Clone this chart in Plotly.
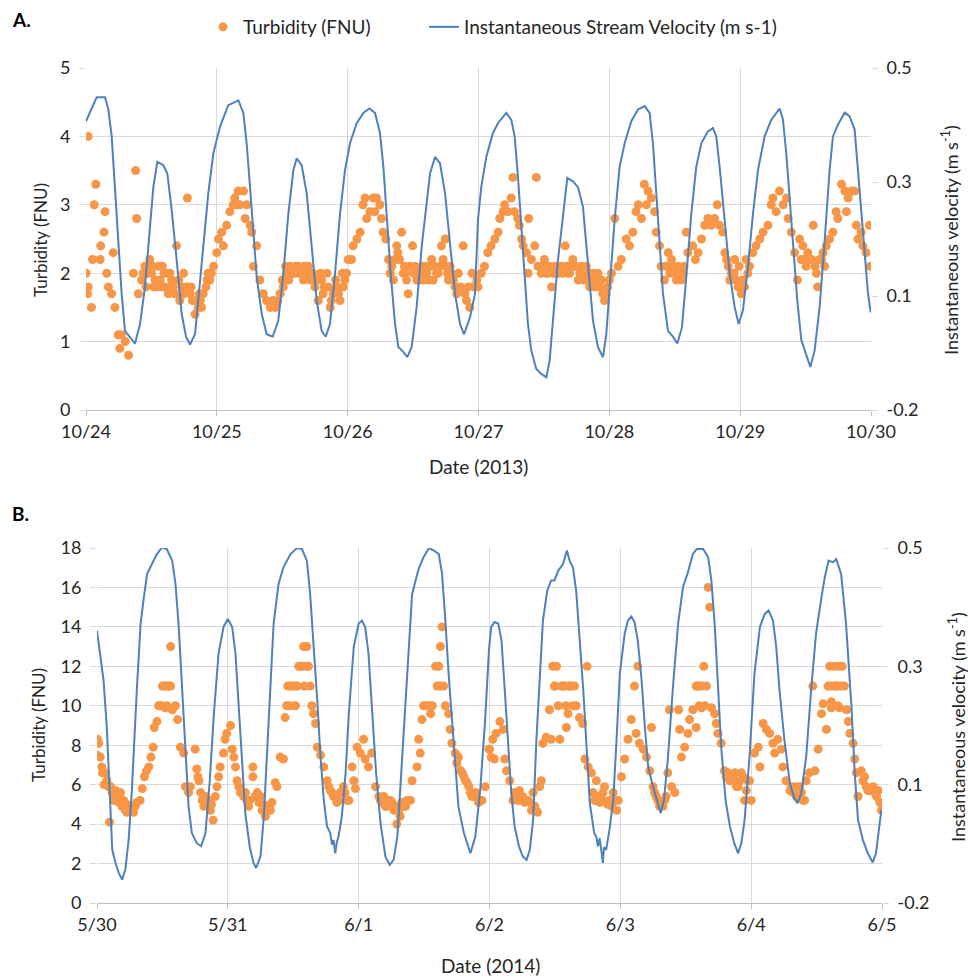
import pandas as pd
import plotly.graph_objects as go

# ---------------- Panel A (2013) ----------------
start_a = "2013-10-24"
vel_a_hours = [0.0, 1.96, 3.49, 4.10, 4.71, 5.32, 5.93, 6.54, 7.15, 8.07, 8.99, 9.91, 10.82, 11.74, 12.35,
               13.09, 14.19, 14.92, 15.72, 16.63, 17.55, 18.35, 19.08, 20.00, 20.61, 21.52, 22.44, 23.36,
               24.58, 26.11, 27.95, 28.86, 29.47, 30.09, 30.70, 31.31, 32.23, 33.14, 34.24, 35.28, 36.20,
               37.12, 38.04, 38.65, 39.56, 40.48, 41.40, 42.32, 43.23, 43.97, 44.76, 45.68, 46.60, 47.51,
               48.43, 49.65, 50.88, 51.98, 53.02, 53.93, 54.55, 55.16, 55.89, 56.69, 57.30, 58.22, 58.95,
               59.74, 60.66, 61.58, 62.50, 63.11, 64.02, 64.94, 65.86, 66.78, 67.69, 68.61, 69.35, 70.45,
               71.36, 71.90, 72.51, 73.43, 74.65, 75.57, 77.10, 78.02, 78.63, 79.24, 79.85, 80.46, 81.07,
               81.68, 82.60, 83.52, 84.44, 85.05, 85.66, 86.58, 87.49, 88.29, 89.33, 90.25, 91.16, 92.08,
               93.00, 93.91, 94.83, 95.44, 96.05, 96.97, 97.89, 98.81, 100.03, 101.25, 102.48, 103.39,
               104.00, 104.62, 105.23, 105.84, 106.76, 107.67, 108.47, 109.32, 110.12, 111.04, 111.95,
               112.87, 114.09, 115.01, 115.62, 116.23, 117.15, 118.07, 118.98, 119.72, 120.51, 121.43,
               122.35, 123.27, 124.49, 125.71, 127.24, 127.85, 128.46, 129.08, 129.69, 130.48, 131.22,
               132.13, 132.87, 133.66, 134.58, 135.50, 136.41, 137.02, 137.94, 139.17, 140.08, 141.00,
               141.61, 142.22, 142.83, 143.45, 143.94]
vel_a = [0.391, 0.440, 0.440, 0.415, 0.360, 0.256, 0.135, 0.038, -0.038, -0.050, -0.064, -0.024, 0.052,
         0.175, 0.256, 0.308, 0.301, 0.284, 0.209, 0.107, -0.003, -0.050, -0.066, -0.045, 0.024, 0.135,
         0.244, 0.325, 0.380, 0.424, 0.434, 0.408, 0.346, 0.256, 0.154, 0.073, -0.003, -0.045, -0.050,
         -0.017, 0.079, 0.202, 0.291, 0.315, 0.301, 0.244, 0.135, 0.024, -0.038, -0.050, -0.024, 0.079,
         0.202, 0.291, 0.346, 0.387, 0.408, 0.417, 0.408, 0.367, 0.298, 0.196, 0.079, -0.024, -0.071,
         -0.081, -0.092, -0.071, 0.011, 0.135, 0.230, 0.284, 0.318, 0.305, 0.244, 0.135, 0.038, -0.024,
         -0.045, -0.010, 0.038, 0.189, 0.256, 0.318, 0.367, 0.387, 0.408, 0.394, 0.360, 0.277, 0.175,
         0.073, -0.024, -0.078, -0.116, -0.126, -0.133, -0.099, -0.017, 0.107, 0.196, 0.275, 0.268,
         0.256, 0.216, 0.093, -0.017, -0.071, -0.092, -0.045, 0.052, 0.189, 0.298, 0.346, 0.391, 0.415,
         0.422, 0.408, 0.346, 0.244, 0.140, 0.038, -0.038, -0.050, -0.064, -0.031, 0.073, 0.202, 0.298,
         0.346, 0.370, 0.377, 0.360, 0.298, 0.189, 0.079, 0.011, -0.024, 0.004, 0.093, 0.202, 0.291,
         0.360, 0.394, 0.417, 0.394, 0.325, 0.230, 0.126, 0.024, -0.057, -0.085, -0.112, -0.078, 0.011,
         0.147, 0.291, 0.360, 0.384, 0.409, 0.401, 0.374, 0.291, 0.196, 0.107, 0.038, 0.000]

turb_a_hours = [0.0, 0.4, 0.4, 0.3, 1.0, 1.2, 1.5, 1.8, 2.6, 2.7, 3.3, 3.5, 3.8, 4.1, 4.7, 5.0, 5.3, 5.9, 6.2,
                6.5, 7.2, 7.8, 8.7, 9.1, 9.3, 9.6, 10.2, 10.8, 11.2, 11.7, 12.0, 12.4, 12.7, 13.3, 13.6, 13.9,
                14.3, 14.8, 15.1, 15.4, 15.7, 16.3, 16.6, 17.2, 17.6, 17.9, 18.5, 18.6, 19.1, 19.5, 20.0,
                20.3, 20.8, 21.2, 21.5, 22.0, 22.4, 22.7, 23.4, 24.0, 24.3, 24.9, 25.2, 25.8, 26.4, 27.0,
                27.3, 27.6, 27.9, 28.2, 28.9, 29.2, 29.5, 30.1, 30.4, 30.7, 31.3, 31.9, 32.5, 33.1, 33.8,
                34.3, 34.7, 35.2, 35.6, 36.2, 36.5, 36.8, 37.2, 37.7, 38.1, 38.6, 39.0, 39.3, 39.9, 40.3,
                40.8, 41.1, 41.4, 42.0, 42.6, 43.2, 43.7, 44.2, 44.8, 45.4, 46.0, 46.6, 47.2, 47.8, 48.1,
                48.7, 49.0, 49.7, 50.3, 50.8, 51.2, 51.5, 52.1, 52.7, 53.0, 53.3, 53.9, 54.2, 54.5, 55.0,
                55.5, 55.8, 56.1, 56.4, 57.0, 57.5, 57.9, 58.2, 58.6, 59.1, 59.4, 59.9, 60.4, 60.7, 61.0,
                61.6, 62.0, 62.5, 63.1, 63.4, 63.7, 64.3, 64.9, 65.2, 65.9, 66.3, 66.8, 67.4, 68.0, 68.3,
                68.7, 69.2, 69.8, 70.4, 71.1, 71.7,
                71.9, 72.5, 73.1, 73.7, 74.3, 75.0, 75.6, 75.9, 76.5, 76.8, 77.4, 78.0, 78.3, 78.6, 79.2,
                79.5, 79.9, 80.2, 80.8, 81.1, 81.2, 81.7, 82.3, 82.6, 82.9, 83.5, 84.1, 84.7, 85.4, 86.0,
                86.6, 87.2, 87.9, 88.4, 88.9, 89.3, 89.9, 90.6, 91.2, 91.8, 92.4, 93.0, 93.6, 94.2, 94.8,
                95.1, 95.7, 96.4, 97.0, 97.6, 98.2, 99.1, 99.7, 100.3, 100.9, 101.3, 101.9, 102.4, 102.8,
                103.1, 103.7, 104.3, 104.6, 105.2, 105.5, 106.1, 106.8, 107.4, 108.0, 108.6, 109.2, 109.7,
                110.1, 110.4, 111.3, 111.8, 112.3, 112.9, 113.5, 114.1, 114.7, 115.3, 115.8, 116.2, 116.8,
                117.2, 117.8, 118.1, 118.6, 119.0, 119.3, 119.8, 120.2, 120.8, 121.1, 121.7, 122.3, 122.9,
                123.6, 124.2, 125.1, 125.7, 126.0, 126.6, 127.2, 127.9, 128.5, 128.8, 129.4, 130.0, 130.5,
                130.9, 131.5, 132.4, 133.1, 133.4, 134.0, 134.2, 134.6, 135.2, 135.8, 136.4, 137.0, 137.6,
                137.9, 138.6, 139.2, 139.5, 139.8, 140.4, 141.0, 141.3, 141.6, 142.2, 142.5, 143.1, 143.7,
                143.9]
turb_a = [2.0, 4.0, 1.8, 1.7, 1.5, 2.2, 3.0, 3.3, 2.2, 2.4, 2.6, 2.9, 2.0, 1.8, 1.7, 2.3, 1.5, 1.1, 0.9,
          1.1, 1.0, 0.8, 2.0, 3.5, 2.8, 1.7, 1.9, 2.1, 2.0, 2.2, 2.0, 1.8, 1.9, 2.1, 1.9, 1.8, 2.0, 2.0,
          1.7, 1.8, 1.9, 1.7, 2.4, 1.6, 1.8, 2.0, 1.8, 3.1, 1.7, 1.6, 1.4, 1.6, 1.7, 1.5, 1.7, 1.8, 2.0,
          1.9, 2.1, 2.3, 2.5, 2.6, 2.4, 2.7, 2.9, 3.0, 3.1, 3.0, 3.2, 3.0, 3.2, 2.8, 3.0, 2.7, 2.6, 2.1,
          2.4, 1.9, 1.7, 1.6, 1.5, 1.6, 1.5, 1.6, 1.7, 1.8, 1.9, 2.0, 1.9, 2.0, 2.0, 2.1, 2.0, 2.0, 1.9,
          2.0, 2.1, 1.9, 2.0, 1.8, 1.6, 1.9, 1.8, 2.0, 1.5, 1.7, 1.8, 1.6, 1.8, 2.0, 2.2, 2.2, 2.4, 2.5,
          2.6, 3.0, 3.1, 2.8, 2.9, 3.1, 2.9, 3.1, 3.0, 2.8, 2.6, 2.5, 2.2, 2.0, 2.1, 1.9, 2.4, 2.2, 2.6,
          2.0, 2.0, 1.7, 2.1, 2.4, 2.1, 1.9, 1.9, 2.1, 2.0, 2.0, 2.1, 2.2, 1.9, 2.0, 2.1, 2.4, 2.5, 2.0,
          2.1, 1.9, 1.7, 2.0, 1.8, 2.4, 1.6, 1.5, 1.8, 1.9,
          1.8, 2.0, 2.1, 2.3, 2.4, 2.5, 2.6, 2.8, 2.9, 3.0, 2.9, 3.1, 3.4, 2.9, 2.8, 2.7, 2.5, 2.4, 2.3,
          2.0, 2.8, 2.2, 2.4, 3.4, 2.1, 2.0, 2.2, 2.0, 1.8, 2.1, 2.0, 2.1, 2.4, 2.0, 2.1, 2.2, 2.1, 2.0,
          1.9, 2.1, 1.8, 2.0, 1.9, 1.8, 1.7, 1.6, 1.8, 2.0, 2.8, 2.1, 2.2, 2.5, 2.4, 2.6, 2.9, 3.0, 2.8,
          3.3, 3.0, 3.2, 3.1, 2.9, 2.6, 2.4, 2.1, 1.9, 2.3, 2.2, 2.0, 2.1, 1.9, 2.1, 2.6, 2.3, 2.4, 2.2,
          2.3, 2.5, 2.7, 2.8, 2.7, 2.8, 3.0, 2.7, 2.6, 2.3, 2.1, 1.9, 2.0, 2.2, 1.9, 2.1, 1.7, 1.8, 2.2,
          2.1, 2.3, 2.4, 2.5, 2.6, 2.7, 3.0, 3.1, 2.9, 3.2, 3.0, 3.1, 2.8, 2.6, 2.3, 1.9, 2.5, 2.4, 2.3,
          2.2, 2.7, 2.0, 1.8, 2.2, 2.3, 2.4, 2.5, 2.6, 2.9, 2.8, 3.3, 3.2, 2.9, 3.1, 3.2, 3.2, 2.7, 2.5,
          2.6, 2.4, 2.3, 2.7, 2.1]
# additional readings in the dense bands of panel A
turb_a_hours_more = [10.5, 11.0, 12.2, 13.0, 14.0, 14.5, 15.4, 16.0, 17.0, 18.0, 19.3, 20.6, 21.0, 22.2,
                     23.0, 36.0, 36.6, 37.0, 37.4, 38.0, 38.4, 39.0, 39.6, 40.0, 40.6, 41.6, 42.3, 43.0,
                     43.5, 44.5, 45.0, 45.8, 46.3, 47.0, 47.5, 56.7, 57.2, 58.4, 58.8, 60.1, 61.3, 61.9,
                     62.2, 62.8, 63.9, 64.6, 65.5, 66.0, 66.5, 67.0, 67.7, 69.5, 70.1, 70.8, 83.2, 83.8,
                     84.4, 85.0, 85.7, 86.3, 87.5, 88.1, 88.7, 89.6, 90.3, 90.9, 91.5, 92.1, 92.7, 93.3,
                     93.9, 94.5, 95.4, 96.0, 106.4, 107.1, 107.7, 108.3, 108.9, 109.5, 117.5, 118.4, 118.9,
                     119.6, 120.5, 121.4, 131.2, 131.8, 132.1, 132.7, 133.7, 134.9, 135.5]
turb_a_more = [2.0, 1.8, 2.1, 1.8, 2.1, 1.8, 2.0, 1.8, 1.9, 1.7, 1.8, 1.5, 1.6, 1.9, 2.0, 1.9, 2.1, 2.0,
               2.1, 2.0, 2.1, 2.1, 2.0, 2.1, 2.0, 2.0, 1.9, 2.0, 1.7, 1.8, 1.6, 1.9, 1.7, 2.0, 1.9, 2.2,
               2.3, 2.1, 1.9, 2.0, 2.0, 1.9, 2.1, 1.9, 2.1, 2.0, 2.2, 2.1, 1.9, 2.0, 1.8, 1.7, 1.8, 2.0,
               2.1, 2.1, 2.0, 2.1, 2.0, 2.0, 2.0, 2.1, 2.0, 2.1, 1.9, 2.1, 1.9, 2.0, 1.9, 1.8, 2.0, 1.9,
               1.7, 1.9, 2.1, 2.0, 2.1, 1.9, 2.0, 2.0, 2.2, 2.0, 2.0, 1.8, 1.9, 2.0, 2.2, 2.2, 2.1, 2.2,
               2.1, 2.2, 2.1]

# ---------------- Panel B (2014) ----------------
start_b = "2014-05-30"
vel_b_hours = [0.0, 0.6, 1.2, 1.8, 2.4, 2.8, 3.4, 4.0, 4.6, 5.2, 5.8, 6.4, 7.3, 8.0, 8.6, 9.2, 10.1, 11.0,
               11.9, 12.8, 13.8, 14.4, 15.0, 15.6, 16.2, 16.8, 17.4, 18.3, 19.1, 19.9, 20.7, 21.4, 22.3,
               23.2, 24.0, 24.8, 25.4, 26.0, 26.6, 27.2, 28.0, 28.7, 29.2, 30.0, 30.6, 31.5, 32.4, 33.3,
               34.2, 35.5, 36.7, 37.6, 38.5, 39.1, 39.7, 40.4, 41.0, 41.6, 42.2, 42.8, 43.1, 43.4, 43.7,
               44.0, 44.3, 44.9, 45.6, 46.2, 47.1, 48.0, 48.6, 49.2, 49.8, 50.4, 51.2, 52.0, 52.9, 53.7,
               54.4, 55.1, 56.0, 56.9, 57.8, 59.0, 59.9, 60.9, 61.8, 62.7, 63.3, 63.9, 64.5, 65.4, 66.3,
               67.3, 67.9, 68.5, 69.4, 70.3, 71.2, 71.9, 72.3, 72.9, 73.6, 74.2, 74.8, 75.4, 76.0, 76.6,
               77.4, 78.1, 78.8, 79.4, 80.0, 80.6, 81.2, 81.8, 82.6, 83.3, 83.9, 84.6, 85.5, 86.2, 86.7,
               87.3, 87.9, 88.5, 89.2, 89.8, 90.4, 91.2, 91.6, 91.9, 92.2, 92.5, 92.8, 93.0, 93.4, 94.0,
               94.7, 95.3, 95.9, 96.8, 97.4, 98.0, 98.6, 99.2, 99.9, 100.5, 101.1, 102.0, 102.8, 103.4,
               104.0, 104.7, 105.7, 106.6, 107.5, 108.4, 109.3, 110.0, 111.2, 112.1, 112.7, 113.3, 113.9,
               114.5, 115.3, 116.1, 116.9, 117.6, 118.2, 118.8, 119.7, 120.6, 121.6, 122.5, 123.2, 124.0,
               124.6, 125.2, 126.1, 127.1, 127.9, 128.5, 129.2, 130.1, 131.0, 131.9, 132.9, 133.5, 134.2,
               135.0, 135.6, 136.5, 137.4, 138.4, 139.0, 139.6, 140.5, 141.4, 142.3, 142.9, 143.5, 143.9]
vel_b = [0.337, 0.292, 0.239, 0.147, 0.016, -0.095, -0.121, -0.141, -0.154, -0.134, -0.076, 0.023, 0.220,
         0.351, 0.403, 0.449, 0.469, 0.488, 0.501, 0.498, 0.475, 0.429, 0.344, 0.220, 0.095, -0.010,
         -0.062, -0.082, -0.088, -0.062, 0.043, 0.167, 0.292, 0.344, 0.360, 0.344, 0.292, 0.187, 0.069,
         -0.023, -0.088, -0.121, -0.131, -0.108, -0.030, 0.147, 0.351, 0.429, 0.462, 0.488, 0.500, 0.498,
         0.475, 0.409, 0.318, 0.200, 0.089, 0.003, -0.049, -0.062, -0.085, -0.076, -0.102, -0.080, -0.069,
         -0.030, 0.056, 0.174, 0.305, 0.351, 0.357, 0.344, 0.292, 0.187, 0.056, -0.042, -0.108, -0.125,
         -0.115, -0.069, 0.095, 0.252, 0.409, 0.459, 0.482, 0.500, 0.495, 0.488, 0.449, 0.357, 0.252,
         0.121, -0.010, -0.062, -0.082, -0.102, -0.069, 0.023, 0.161, 0.298, 0.344, 0.354, 0.351, 0.318,
         0.220, 0.121, 0.016, -0.049, -0.088, -0.108, -0.115, -0.095, -0.036, 0.121, 0.252, 0.357, 0.416,
         0.436, 0.436, 0.455, 0.469, 0.495, 0.475, 0.462, 0.416, 0.331, 0.220, 0.108, -0.003, -0.062,
         -0.070, -0.088, -0.072, -0.095, -0.121, -0.090, -0.095, -0.056, 0.003, 0.121, 0.252, 0.331,
         0.357, 0.365, 0.354, 0.318, 0.239, 0.147, 0.069, 0.029, -0.003, -0.023, 0.003, 0.082, 0.232,
         0.351, 0.423, 0.452, 0.488, 0.498, 0.498, 0.482, 0.436, 0.351, 0.232, 0.108, 0.003, -0.049,
         -0.082, -0.102, -0.082, -0.036, 0.089, 0.252, 0.344, 0.370, 0.377, 0.357, 0.305, 0.220, 0.121,
         0.036, 0.007, -0.003, 0.016, 0.089, 0.220, 0.331, 0.403, 0.442, 0.475, 0.472, 0.478, 0.449,
         0.351, 0.187, 0.056, -0.036, -0.076, -0.102, -0.120, -0.102, -0.049, -0.016]

turb_b_hours = [0.0, 0.1, 0.3, 0.6, 0.9, 1.3, 1.5, 2.1, 2.3, 2.8, 3.1, 3.4, 3.7, 4.0, 4.3, 4.6, 4.9, 5.2,
                5.5, 6.1, 6.7, 7.3, 7.9, 8.3, 8.7, 9.1, 9.5, 9.9, 10.3, 10.5, 11.0, 11.3, 11.9, 12.2, 12.5,
                12.8, 13.1, 13.5, 13.5, 13.8, 14.4, 14.8, 15.3, 15.9, 16.2, 16.8, 17.1, 18.0, 18.3, 18.7,
                19.3, 19.6, 20.2, 20.8, 21.3, 21.7, 22.0, 22.3, 22.6, 23.2, 23.5, 23.8, 24.5, 24.8, 25.1,
                25.4, 25.7, 26.3, 26.9, 27.5, 27.8, 28.6, 28.6, 29.0, 29.7, 30.3, 30.9, 31.5, 32.1, 32.7,
                33.0, 33.6, 34.2, 34.5, 34.8, 35.2, 35.5, 35.8, 36.1, 36.4, 36.7, 37.3, 37.6, 38.2, 38.5,
                38.8, 39.1, 39.4, 39.7, 40.1, 40.4, 41.0, 41.6, 42.2, 42.8, 43.4, 44.0, 44.6, 45.2, 45.9,
                46.8, 47.1, 47.4, 47.7, 48.3, 48.9, 49.2, 49.8, 50.4, 51.1, 51.7, 52.3, 52.9, 53.5, 54.1,
                54.5, 55.0, 55.6, 56.3, 56.9, 57.5, 57.8, 58.7, 59.0, 59.3, 59.6, 59.9, 60.5, 61.2, 61.5,
                62.1, 62.4, 63.0, 63.3, 63.6, 63.9, 64.5, 64.8, 65.1, 65.7, 66.3, 66.7, 67.3, 67.9, 68.5,
                69.1, 70.0, 70.6, 71.2, 71.9,
                72.0, 72.3, 72.6, 72.9, 73.2, 73.9, 74.5, 74.8, 75.1, 75.7, 76.3, 76.9, 77.5, 78.1, 78.4,
                79.1, 79.7, 80.3, 80.8, 81.2, 81.5, 81.8, 82.4, 83.0, 83.3, 83.6, 83.9, 84.3, 84.6, 84.9,
                85.2, 85.5, 86.1, 86.4, 86.7, 87.0, 87.6, 87.9, 88.5, 89.1, 89.5, 89.9, 90.1, 90.7, 91.0,
                91.6, 91.9, 92.5, 93.1, 93.4, 94.0, 94.7, 95.3, 95.6, 96.2, 96.8, 97.4, 98.0, 98.6, 98.9,
                99.2, 99.5, 100.2, 100.8, 101.4, 101.7, 102.0, 102.6, 103.2, 104.1, 104.7, 105.0, 105.4,
                106.0, 106.7, 106.9, 107.2, 107.8, 108.4, 108.7, 109.3, 109.9, 110.2, 110.5, 110.9, 111.3,
                111.8, 112.1, 112.4, 112.7, 113.3, 113.6, 113.9, 114.5, 115.1, 115.7, 116.4, 117.0, 117.6,
                118.2, 118.8, 119.4, 120.0, 120.6, 121.3, 121.6, 122.2, 122.8, 123.4, 124.0, 124.3, 124.9,
                125.5, 125.8, 126.4, 127.1, 127.7, 128.3, 128.9, 129.5, 130.1, 130.7, 131.3, 131.7, 132.3,
                132.9, 133.2, 133.8, 134.1, 134.4, 134.7, 135.3, 135.6, 135.9, 136.2, 136.7, 137.1, 137.5,
                137.8, 138.1, 138.7, 139.0, 139.3, 139.6, 140.2, 140.8, 141.1, 141.7, 142.4, 143.0, 143.6,
                143.9]
turb_b = [7.5, 8.3, 8.1, 7.4, 6.9, 6.0, 6.6, 5.9, 4.1, 5.6, 5.2, 5.7, 5.4, 5.1, 5.6, 4.9, 5.2, 4.7, 4.6,
          4.9, 4.6, 5.1, 5.2, 5.8, 6.4, 6.7, 6.9, 7.4, 7.9, 8.9, 9.2, 10.0, 10.0, 11.0, 11.0, 10.0, 11.0,
          11.0, 13.0, 9.8, 10.0, 9.3, 7.9, 7.6, 5.9, 5.6, 5.9, 7.8, 6.8, 6.2, 5.2, 4.9, 5.1, 4.7, 4.2,
          5.4, 5.9, 6.4, 6.9, 7.6, 8.3, 8.6, 9.0, 7.8, 7.4, 6.9, 6.2, 5.6, 5.4, 5.2, 4.9, 6.9, 6.4, 5.4,
          5.1, 4.7, 4.4, 4.9, 5.1, 6.1, 5.9, 7.4, 7.3, 9.4, 10.0, 10.0, 11.0, 11.0, 10.0, 11.0, 11.0,
          12.0, 12.0, 13.0, 13.0, 12.0, 11.0, 10.0, 9.6, 9.1, 7.9, 7.5, 6.9, 6.2, 5.7, 5.4, 5.1, 5.6, 5.9,
          5.2, 6.9, 6.2, 5.8, 7.9, 7.6, 8.3, 7.3, 6.9, 7.6, 5.9, 5.4, 5.1, 4.9, 5.2, 5.1, 4.7, 4.0, 4.4,
          4.9, 5.2, 5.2, 6.2, 6.9, 8.3, 7.6, 9.3, 10.0, 10.0, 9.6, 10.0, 12.0, 11.0, 13.0, 14.0, 11.0,
          10.0, 9.6, 8.8, 8.1, 7.6, 7.4, 6.7, 6.4, 6.1, 5.6, 5.4, 5.1, 5.2, 5.9, 7.8,
          7.8, 7.4, 8.3, 7.3, 8.6, 9.2, 8.8, 7.3, 6.7, 6.2, 5.2, 5.6, 5.7, 5.4, 5.1, 5.2, 4.7, 4.9, 4.6,
          5.9, 6.2, 8.1, 8.4, 9.8, 8.3, 12.0, 11.0, 12.0, 10.0, 8.3, 11.0, 11.0, 8.9, 9.6, 11.0, 11.0,
          11.0, 10.0, 9.4, 9.1, 7.3, 12.0, 6.9, 6.6, 5.6, 6.2, 5.4, 5.4, 5.9, 5.1, 5.2, 5.6, 4.7, 5.2,
          6.4, 7.3, 8.3, 9.3, 11.0, 8.6, 12.0, 8.1, 7.8, 7.4, 6.7, 8.9, 5.9, 5.4, 4.9, 5.2, 6.6, 9.8,
          5.9, 5.6, 9.8, 8.8, 7.4, 7.9, 8.6, 9.3, 9.8, 8.9, 11.0, 10.0, 9.9, 12.0, 11.0, 16.0, 15.0,
          9.9, 9.6, 9.1, 8.6, 8.1, 6.7, 6.6, 6.2, 6.6, 5.9, 6.6, 5.2, 6.2, 5.2, 7.6, 7.9, 6.9, 9.1, 8.8,
          8.6, 8.1, 7.6, 8.3, 7.8, 6.9, 6.2, 5.7, 5.6, 5.4, 5.9, 5.2, 6.2, 6.6, 11.0, 6.7, 7.8, 9.6,
          10.1, 8.8, 11.0, 12.0, 9.9, 12.0, 11.0, 11.0, 9.9, 12.0, 11.0, 9.8, 9.2, 8.6, 8.1, 7.3, 6.6,
          5.4, 6.7, 6.4, 5.9, 5.7, 5.9, 5.4, 5.1, 4.7]
# additional readings in the dense clusters of panel B
turb_b_hours_more = [1.0, 1.8, 2.5, 3.0, 3.6, 4.2, 4.8, 5.4, 6.4, 7.0, 18.5, 19.0, 19.9, 20.5, 21.0,
                     26.0, 26.6, 27.2, 28.0, 29.4, 30.0, 30.6, 31.2, 31.8, 42.5, 43.1, 43.7, 44.3, 45.5,
                     46.2, 52.0, 52.6, 53.2, 53.8, 54.8, 55.3, 55.9, 56.6, 66.0, 67.0, 67.6, 68.2, 68.8,
                     69.5, 70.3, 76.6, 77.2, 77.8, 78.7, 79.4, 80.0, 80.5, 91.3, 92.2, 92.8, 93.7, 94.4,
                     95.0, 102.3, 102.9, 103.5, 103.8, 104.4, 115.4, 116.1, 116.7, 117.3, 117.9, 118.5,
                     119.1, 119.7, 127.4, 128.0, 128.6, 129.2, 129.8, 140.5, 141.4, 142.0, 142.7, 143.3,
                     11.6, 12.5, 12.0, 13.0, 35.0, 36.4, 37.0, 37.9, 38.4, 38.0, 61.0, 62.7, 62.9, 84.0,
                     85.8, 86.6, 87.3, 86.0, 109.9, 110.5, 111.0, 111.5, 134.4, 135.0, 135.6, 136.0, 136.5,
                     135.9, 134.7]
turb_b_more = [6.6, 6.2, 5.9, 5.7, 5.2, 5.4, 5.0, 5.0, 4.7, 4.9, 6.4, 5.6, 5.4, 5.2, 5.0, 5.9, 5.6, 5.6,
               5.2, 5.6, 5.4, 5.0, 4.9, 4.7, 5.9, 5.6, 5.4, 5.2, 5.6, 5.2, 5.2, 5.4, 4.9, 5.2, 4.9, 4.7,
               5.1, 4.9, 7.1, 6.6, 6.2, 5.9, 5.4, 5.6, 5.2, 5.6, 5.2, 5.4, 5.2, 5.1, 5.6, 4.7, 5.2, 5.1,
               5.6, 5.0, 4.9, 5.2, 5.6, 5.2, 5.1, 4.9, 5.4, 6.4, 6.2, 6.4, 5.9, 6.2, 6.4, 5.7, 6.2, 5.9,
               5.9, 5.4, 5.6, 5.2, 6.2, 5.7, 5.7, 5.6, 5.7,
               10.0, 9.9, 11.0, 11.0, 11.0, 10.0, 12.0, 13.0, 12.0, 11.0, 10.0, 12.0, 11.0, 11.0,
               11.0, 11.0, 10.0, 10.0, 11.0, 11.0, 11.0, 10.0, 11.0, 11.0, 11.0, 12.0, 11.0, 10.0, 10.2]

TURB_COLOR = "#F79646"
VEL_COLOR = "#4F81BD"
GRID = "#D9D9D9"
AXIS = "#BFBFBF"
TEXT = "#262626"
FONT = "Lato, Calibri, sans-serif"

def times(start, hours):
    return pd.Timestamp(start) + pd.to_timedelta(pd.Series(hours), unit="h")

fig = go.Figure()
fig.add_trace(go.Scatter(x=times(start_a, turb_a_hours + turb_a_hours_more), y=turb_a + turb_a_more,
                         mode="markers", marker=dict(color=TURB_COLOR, size=9),
                         name="Turbidity (FNU)", xaxis="x", yaxis="y", legend="legend"))
fig.add_trace(go.Scatter(x=times(start_a, vel_a_hours), y=vel_a, mode="lines",
                         line=dict(color=VEL_COLOR, width=2),
                         name="Instantaneous Stream Velocity (m s-1)", xaxis="x", yaxis="y2",
                         legend="legend2"))
fig.add_trace(go.Scatter(x=times(start_b, turb_b_hours + turb_b_hours_more), y=turb_b + turb_b_more,
                         mode="markers", marker=dict(color=TURB_COLOR, size=9), showlegend=False,
                         xaxis="x2", yaxis="y3"))
fig.add_trace(go.Scatter(x=times(start_b, vel_b_hours), y=vel_b, mode="lines",
                         line=dict(color=VEL_COLOR, width=2), showlegend=False,
                         xaxis="x2", yaxis="y4"))

W, H = 968, 978
def px_x(p):
    return p / W
def px_y(p):
    return 1 - p / H

vel_tickvals = [-0.2, -0.2 + 0.7 / 3, -0.2 + 1.4 / 3, 0.5]
vel_ticktext = ["-0.2", "0.1", "0.3", "0.5"]

TICKFONT = dict(size=18, color=TEXT, family=FONT)
xcommon = dict(type="date", dtick=86400000, tickformat="%-m/%-d", showgrid=True, gridcolor=GRID,
               gridwidth=1, showline=True, linecolor=AXIS, linewidth=1, ticks="outside", ticklen=5,
               tickcolor=AXIS, tickfont=TICKFONT, zeroline=False, automargin=False)
ycommon = dict(showgrid=True, gridcolor=GRID, gridwidth=1, zeroline=False, showline=False,
               ticks="outside", ticklen=6, tickcolor=GRID, ticklabelstandoff=5,
               tickfont=TICKFONT, automargin=False)
y2common = dict(showgrid=False, zeroline=False, showline=False, ticks="outside", ticklen=6,
                tickcolor=GRID, tickvals=vel_tickvals, ticktext=vel_ticktext, range=[-0.2, 0.5],
                ticklabelstandoff=5, tickfont=TICKFONT, side="right", automargin=False)

LEGFONT = dict(size=19, color=TEXT, family=FONT)
fig.update_layout(
    width=W, height=H, margin=dict(l=0, r=0, t=0, b=0, autoexpand=False),
    paper_bgcolor="white", plot_bgcolor="white",
    font=dict(family=FONT, color=TEXT),
    xaxis=dict(xcommon, domain=[px_x(86), px_x(871)],
               range=["2013-10-24", "2013-10-30"], anchor="y"),
    yaxis=dict(ycommon, domain=[px_y(410), px_y(68)], range=[0, 5], dtick=1, anchor="x"),
    yaxis2=dict(y2common, overlaying="y", anchor="x"),
    xaxis2=dict(xcommon, domain=[px_x(97), px_x(882)],
                range=["2014-05-30", "2014-06-05"], anchor="y3"),
    yaxis3=dict(ycommon, domain=[px_y(903), px_y(548)], range=[0, 18], dtick=2, anchor="x2"),
    yaxis4=dict(y2common, overlaying="y3", anchor="x2"),
    legend=dict(orientation="h", x=px_x(203), xanchor="left", y=px_y(8), yanchor="top",
                font=LEGFONT, bgcolor="rgba(0,0,0,0)"),
    legend2=dict(orientation="h", x=px_x(424), xanchor="left", y=px_y(8), yanchor="top",
                 font=LEGFONT, bgcolor="rgba(0,0,0,0)"),
    showlegend=True,
)

ann = []
def add_text(text, x, y, size=15, angle=0, bold=False, xanchor="center"):
    ann.append(dict(text=("<b>%s</b>" % text) if bold else text, x=px_x(x), y=px_y(y),
                    xref="paper", yref="paper", showarrow=False, textangle=angle,
                    xanchor=xanchor, yanchor="middle",
                    font=dict(size=size, color="black" if bold else TEXT, family=FONT)))

add_text("A.", 10, 19, size=19, bold=True, xanchor="left")
add_text("B.", 10, 513, size=19, bold=True, xanchor="left")
add_text("Turbidity (FNU)", 40, 240, size=17, angle=-90)
add_text("Turbidity (FNU)", 38, 725, size=17, angle=-90)
add_text("Instantaneous velocity (m s<sup>-1</sup>)", 950, 240, size=18, angle=-90)
add_text("Instantaneous velocity (m s<sup>-1</sup>)", 957, 727, size=18, angle=-90)
add_text("Date (2013)", 478, 466, size=19)
add_text("Date (2014)", 490, 965, size=19)
fig.update_layout(annotations=ann)

fig.write_html("out.html")
